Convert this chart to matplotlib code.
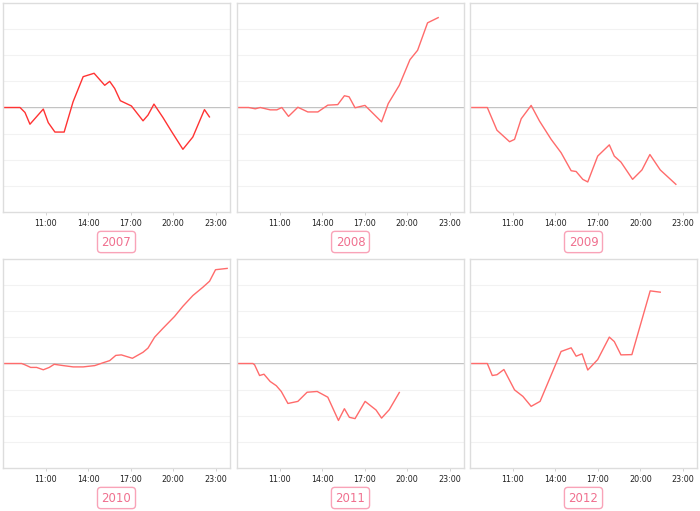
import numpy as np
import matplotlib.pyplot as plt

years = ['2007', '2008', '2009', '2010', '2011', '2012']

h2007 = [8.0, 9.20, 9.55, 9.90, 10.84, 11.19, 11.66, 12.31, 12.94, 13.65, 14.42, 15.17, 15.52,
         15.87, 16.27, 17.05, 17.87, 18.22, 18.64, 19.27, 19.86, 20.68, 21.38, 22.20, 22.55]
v2007 = [0, 0, -0.19, -0.64, -0.06, -0.58, -0.94, -0.94, 0.22, 1.18, 1.31, 0.85, 1.0,
         0.73, 0.26, 0.06, -0.51, -0.29, 0.13, -0.38, -0.9, -1.6, -1.13, -0.08, -0.36]

h2008 = [8.0, 8.82, 9.29, 9.64, 10.34, 10.81, 11.16, 11.63, 12.29, 12.99, 13.70, 14.40,
         15.10, 15.57, 15.90, 16.32, 17.02, 18.19, 18.66, 19.44, 20.19, 20.73, 21.43, 22.18]
v2008 = [0, 0, -0.05, 0, -0.09, -0.09, 0, -0.34, 0.01, -0.17, -0.17, 0.09,
         0.11, 0.45, 0.41, -0.01, 0.08, -0.55, 0.15, 0.85, 1.83, 2.19, 3.24, 3.44]

h2009 = [8.0, 9.22, 9.90, 10.79, 11.14, 11.61, 12.31, 12.90, 13.72, 14.42, 15.13, 15.48,
         15.95, 16.30, 17.00, 17.82, 18.17, 18.64, 19.46, 20.12, 20.68, 21.41, 22.51]
v2009 = [0, 0, -0.87, -1.31, -1.22, -0.43, 0.08, -0.52, -1.22, -1.73, -2.42, -2.45,
         -2.75, -2.85, -1.86, -1.43, -1.86, -2.09, -2.75, -2.39, -1.80, -2.39, -2.94]

h2010 = [8.0, 9.31, 9.55, 9.95, 10.37, 10.84, 11.26, 11.61, 12.24, 12.95, 13.65, 14.47, 15.06,
         15.52, 15.95, 16.34, 17.12, 17.87, 18.22, 18.69, 19.28, 20.09, 20.68, 21.38, 22.09,
         22.56, 22.98, 23.80]
v2010 = [0, 0, -0.05, -0.15, -0.15, -0.24, -0.15, -0.03, -0.08, -0.13, -0.13, -0.08, 0.03,
         0.11, 0.31, 0.33, 0.20, 0.43, 0.59, 1.01, 1.35, 1.80, 2.19, 2.60, 2.92,
         3.15, 3.59, 3.64]

h2011 = [8.0, 9.12, 9.24, 9.59, 9.90, 10.34, 10.77, 11.12, 11.59, 12.29, 12.94, 13.65,
         14.40, 15.15, 15.57, 15.92, 16.32, 17.03, 17.80, 18.19, 18.73, 19.44]
v2011 = [0, 0, -0.05, -0.46, -0.41, -0.69, -0.85, -1.07, -1.53, -1.45, -1.10, -1.07,
         -1.29, -2.18, -1.73, -2.06, -2.11, -1.45, -1.78, -2.09, -1.77, -1.11]

h2012 = [8.0, 9.22, 9.57, 9.90, 10.39, 11.14, 11.73, 12.31, 12.94, 14.42, 15.13, 15.48,
         15.90, 16.30, 17.00, 17.82, 18.17, 18.64, 19.41, 20.70, 21.41]
v2012 = [0, 0, -0.46, -0.43, -0.23, -1.01, -1.26, -1.64, -1.45, 0.46, 0.60, 0.28,
         0.37, -0.25, 0.15, 1.01, 0.84, 0.33, 0.34, 2.78, 2.73]

hours = [h2007, h2008, h2009, h2010, h2011, h2012]
values = [v2007, v2008, v2009, v2010, v2011, v2012]
line_colors = ['#ff3333', '#ff6b6b', '#ff6b6b', '#ff6b6b', '#ff6b6b', '#ff6b6b']

tick_hours = [11, 14, 17, 20, 23]
tick_labels = ['11:00', '14:00', '17:00', '20:00', '23:00']

fig = plt.figure(figsize=(7, 5.11), dpi=100)

W, H = 700, 511
lefts = [3, 237, 470]
tops = [3, 259]
pw, ph = 227, 209

for i in range(6):
    r, c = divmod(i, 3)
    ax = fig.add_axes([lefts[c] / W, 1 - (tops[r] + ph) / H, pw / W, ph / H])
    ax.set_xlim(8, 24)
    ax.set_ylim(-4, 4)
    ax.set_yticks(range(-3, 4))
    ax.yaxis.grid(True, color='#f2f2f2', lw=0.8)
    ax.tick_params(axis='y', length=0, labelleft=False)
    ax.set_xticks(tick_hours)
    ax.set_xticklabels(tick_labels, fontsize=5.8, color='#222222')
    ax.tick_params(axis='x', length=2, width=0.6, color='#cccccc', pad=3)
    for s in ax.spines.values():
        s.set_color('#dddddd')
        s.set_linewidth(1.0)
    ax.axhline(0, color='#bbbbbb', lw=1.3, zorder=1)
    ax.plot(hours[i], values[i], color=line_colors[i], lw=1.0, zorder=2)

    cx = (lefts[c] + pw / 2) / W
    cy = 1 - (tops[r] + ph + 30) / H
    fig.text(cx, cy, years[i], ha='center', va='center', fontsize=8.5, color='#f0708f',
             bbox=dict(boxstyle='round,pad=0.35,rounding_size=0.3', fc='white',
                       ec='#f9a3b8', lw=1.0))

fig.savefig('out.png', dpi=100)
